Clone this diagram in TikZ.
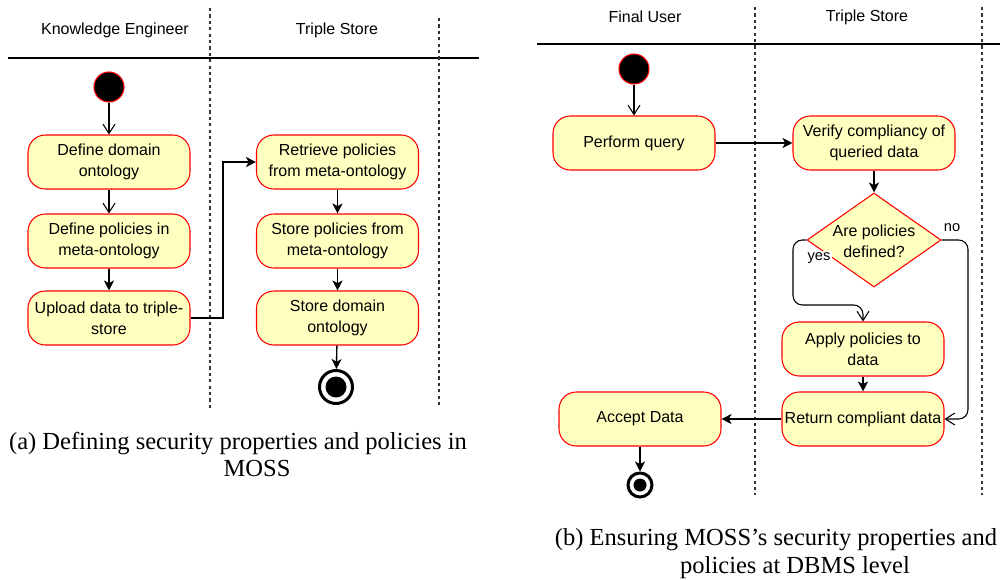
\documentclass[tikz,border=0pt]{standalone}
\usepackage{fontspec}
\setmainfont{Liberation Sans}
\newfontfamily\capfont{Liberation Serif}
\usetikzlibrary{arrows.meta,shapes.geometric,calc}
\definecolor{actred}{HTML}{FF0000}
\definecolor{actfill}{HTML}{FFFFC0}
\definecolor{lanegray}{HTML}{333333}
\begin{document}
\begin{tikzpicture}[x=0.75pt,y=-0.75pt,
  act/.style={draw=actred, fill=actfill, rounded corners=13pt, minimum width=121.5pt,
    minimum height=40.5pt, align=center, font=\fontsize{12}{15.5}\selectfont,
    line width=0.8pt, inner sep=1pt},
  decision/.style={diamond, draw=actred, fill=actfill, line width=0.8pt, inner sep=0pt,
    minimum width=100.5pt, minimum height=70.5pt, aspect=1.43},
  startnode/.style={circle, fill=black, draw=actred, line width=0.8pt, inner sep=0pt, minimum size=22.5pt},
  endring/.style={circle, draw=black, fill=white, line width=2.25pt, inner sep=0pt},
  enddot/.style={circle, fill=black, inner sep=0pt},
  lanehead/.style={font=\fontsize{12}{14}\selectfont},
  lane/.style={draw=lanegray, line width=0.8pt, dash pattern=on 2.4pt off 2.4pt},
  headline/.style={draw=black, line width=0.8pt},
  flow/.style={-{Stealth[length=7.5pt,width=7.5pt,inset=2pt]}, line width=1pt},
  thickflow/.style={flow, line width=1.4pt},
  openflow/.style={-{Straight Barb[length=7pt,width=9pt]}, line width=0.8pt},
  guard/.style={font=\fontsize{11}{13}\selectfont, inner sep=1pt},
  caption/.style={font=\capfont\fontsize{18.4}{22}\selectfont, anchor=base}
]
\useasboundingbox (0,0) rectangle (1000,579);

% ---------------- (a) ----------------
\draw[headline] (8,58) -- (479,58);
\draw[lane] (210,8) -- (210,408);
\draw[lane] (439,18) -- (439,408);
\node[lanehead] (ha1) at (115,30) {Knowledge Engineer};
\node[lanehead] (ha2) at (337,30) {Triple Store};

\node[startnode] (s1) at (109,87) {};
\node[act] (dd) at (109,162) {Define domain\\ontology};
\node[act] (dp) at (109,241) {Define policies in\\meta-ontology};
\node[act] (up) at (109,318) {Upload data to triple-\\store};
\node[act] (rp) at (337.5,162) {Retrieve policies\\from meta-ontology};
\node[act] (sp) at (337.5,241) {Store policies from\\meta-ontology};
\node[act] (sd) at (337.5,318) {Store domain\\ontology};
\node[endring, minimum size=24.75pt] (e1) at (336,387) {};
\node[enddot, minimum size=15.75pt] (e1d) at (e1) {};

\draw[openflow] (s1) -- (dd);
\draw[openflow] (dd) -- (dp);
\draw[thickflow] (dp) -- (up);
\draw[flow] (up.east) -- (223,318) |- (rp.west);
\draw[thickflow] (rp) -- (sp);
\draw[flow] (sp) -- (sd);
\draw[flow] (sd) -- (e1);

\node[caption] (capa1) at (238,449) {(a) Defining security properties and policies in};
\node[caption] (capa2) at (257,476) {MOSS};

% ---------------- (b) ----------------
\draw[headline] (537,44) -- (1000,44);
\draw[lane] (755,7) -- (755,495);
\draw[lane] (982,7) -- (982,495);
\node[lanehead] (hb1) at (645,17) {Final User};
\node[lanehead] (hb2) at (867,17) {Triple Store};

\node[startnode] (s2) at (634,69) {};
\node[act] (pq) at (634,143) {Perform query};
\node[act] (vc) at (874,143) {Verify compliancy of\\queried data};
\node[decision] (dec) at (874,240) {};
\node[font=\fontsize{12}{15.5}\selectfont, align=center] (dect) at (874,241) {Are policies\\defined?};
\node[act] (ap) at (863,349) {Apply policies to\\data};
\node[act] (rc) at (863,419) {Return compliant data};
\node[act] (ad) at (640,419) {Accept Data};
\node[endring, minimum size=18pt] (e2) at (640,485) {};
\node[enddot, minimum size=9.75pt] (e2d) at (e2) {};

\draw[openflow] (s2) -- (pq);
\draw[flow] (pq) -- (vc);
\draw[flow] (vc) -- (dec);
\draw[openflow, rounded corners=7pt] (dec.west) -| (793,305) -| (ap.north);
\draw[openflow, rounded corners=7pt] (dec.east) -| (968,419) -- (rc.east);
\node[guard, fill=white] (gyes) at (819,258) {yes};
\node[guard] (gno) at (952,228) {no};
\draw[flow] (ap) -- (rc);
\draw[flow] (rc) -- (ad);
\draw[flow] (ad) -- (e2);

\node[caption] (capb1) at (776,545) {(b) Ensuring MOSS’s security properties and};
\node[caption] (capb2) at (795,573) {policies at DBMS level};
\end{tikzpicture}
\end{document}
